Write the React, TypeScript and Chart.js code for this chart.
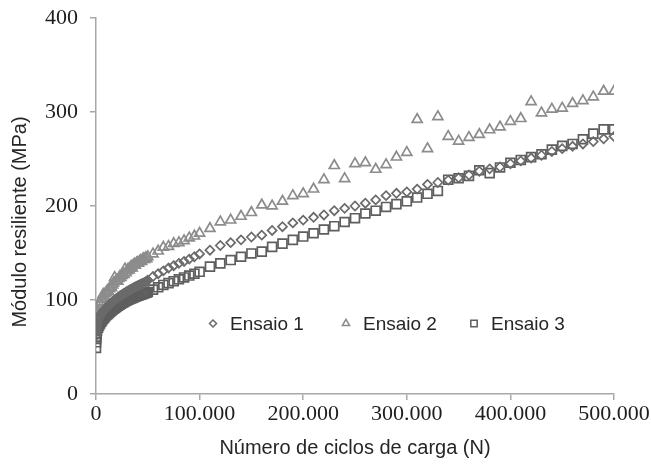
import React, { useEffect, useRef } from 'react';
import { Chart, registerables } from 'chart.js';

Chart.register(...registerables);

// Número de ciclos de carga (N)
const cycles = [
  0, 100, 200, 300, 500,
  1000, 2000, 3000, 4000, 5000, 6000, 7000, 8000, 9000, 10000,
  11000, 12000, 13000, 14000, 15000, 16000, 17000, 18000, 19000, 20000,
  21000, 22000, 23000, 24000, 25000, 26000, 27000, 28000, 29000, 30000,
  31000, 32000, 33000, 34000, 35000, 36000, 37000, 38000, 39000, 40000,
  41000, 42000, 43000, 44000, 45000, 46000, 47000, 48000, 49000, 50000,
  55000, 60000, 65000, 70000, 75000, 80000, 85000, 90000, 95000, 100000,
  110000, 120000, 130000, 140000, 150000, 160000, 170000, 180000, 190000, 200000,
  210000, 220000, 230000, 240000, 250000, 260000, 270000, 280000, 290000, 300000,
  310000, 320000, 330000, 340000, 350000, 360000, 370000, 380000, 390000, 400000,
  410000, 420000, 430000, 440000, 450000, 460000, 470000, 480000, 490000, 500000,
];

// Módulo resiliente (MPa)
const ensaio1 = [
  62, 66, 69, 71, 73,
  76, 79, 81.5, 83.5, 85, 86.5, 88, 89.3, 90.6, 91.8,
  93, 94, 95, 96, 97, 98, 99, 99.9, 100.8, 101.6,
  102.4, 103.2, 104, 104.8, 105.5, 106.2, 106.9, 107.6, 108.3, 109,
  109.7, 110.3, 110.9, 111.5, 112.1, 112.7, 113.3, 113.9, 114.5, 115,
  115.5, 116, 116.5, 117, 117.5, 118, 118.6, 119.3, 120, 121,
  125, 128, 131, 134, 136.5, 139, 141, 143.5, 146, 149,
  153, 158, 161, 164, 167, 169, 174, 178, 182, 185,
  188, 190.5, 195, 197.5, 200, 203, 206.5, 211, 213.5, 215,
  218, 223, 225, 227.5, 230, 233, 237, 239.5, 241.5, 245,
  248, 251, 254, 258, 261, 263.5, 266, 268.5, 271.5, 274,
];

const ensaio2 = [
  80, 83, 85, 86, 88,
  90, 93, 96, 98, 101, 102, 106, 104, 107, 108,
  110, 109, 112, 114, 113, 116, 118, 124, 120, 121,
  120, 123, 125, 124, 126, 128, 127, 133, 129, 131,
  133, 132, 134, 136, 134, 137, 138, 137, 139, 140,
  139, 141, 142, 141, 143, 144, 143, 145, 144, 146,
  149, 152, 156, 157, 160, 161, 163, 166, 168, 171,
  176, 183, 185, 189, 193, 201, 200, 205, 211, 213,
  218, 228, 243, 229, 245, 246, 239, 244, 252, 257,
  292, 261, 295, 274, 269, 273, 276, 281, 284, 290,
  293, 311, 299, 303, 304, 309, 312, 316, 322, 322,
];

const ensaio3 = [
  49, 55, 59, 61, 64,
  67, 70.5, 73, 75, 77, 78.5, 80, 81.5, 82.8, 84,
  85, 86, 87, 88, 89, 90, 90.8, 91.6, 92.4, 93.2,
  94, 94.7, 95.4, 96.1, 96.8, 97.4, 98, 98.6, 99.2, 99.8,
  100.3, 100.8, 101.3, 101.8, 102.3, 102.8, 103.3, 103.7, 104.1, 104.5,
  104.9, 105.3, 105.7, 106.1, 106.5, 106.9, 107.3, 107.7, 108.1, 108.5,
  111, 113.5, 116, 118, 120, 122, 124, 126, 128, 130,
  135.5, 139, 142.5, 146, 149.5, 151.5, 156.5, 160, 164, 167.5,
  171, 175, 178.5, 183, 187, 192, 195, 199, 202, 205,
  209, 213, 216, 228, 229.5, 232, 238, 235, 241, 246,
  249, 252, 255, 260, 264, 266, 271, 277, 281.5, 281.5,
];

const seriesLabels = ['Ensaio 1', 'Ensaio 2', 'Ensaio 3'];
const xTitle = 'Número de ciclos de carga (N)';
const yTitle = 'Módulo resiliente (MPa)';
const xMax = 500000;
const xStep = 100000;
const yMax = 400;
const yStep = 100;

const COLORS = ['#6a6a6a', '#8c8c8c', '#5e5e5e'];
const STYLES = ['rectRot', 'triangle', 'rect'];
const RADII = [4.5, 5.8, 6.3];

function fmtThousands(v: number) {
  return String(v).replace(/\B(?=(\d{3})+(?!\d))/g, '.');
}

function drawMarker(ctx: CanvasRenderingContext2D, style: string, x: number, y: number, r: number) {
  ctx.beginPath();
  if (style === 'rectRot') {
    ctx.moveTo(x, y - r);
    ctx.lineTo(x + r, y);
    ctx.lineTo(x, y + r);
    ctx.lineTo(x - r, y);
    ctx.closePath();
  } else if (style === 'triangle') {
    const a = (2 * Math.PI) / 3;
    ctx.moveTo(x, y - r);
    ctx.lineTo(x + Math.sin(a) * r, y - Math.cos(a) * r);
    ctx.lineTo(x - Math.sin(a) * r, y - Math.cos(a) * r);
    ctx.closePath();
  } else {
    const s = Math.SQRT1_2 * r;
    ctx.rect(x - s, y - s, 2 * s, 2 * s);
  }
  ctx.stroke();
}

const insideLegend = {
  id: 'insideLegend',
  afterDraw(chart: any) {
    const { ctx, chartArea } = chart;
    const y = chart.scales.y.getPixelForValue(75);
    const offsets = [117, 250, 378];
    ctx.save();
    ctx.font = '19px "Liberation Sans", Arial, sans-serif';
    ctx.textBaseline = 'middle';
    ctx.textAlign = 'left';
    seriesLabels.forEach((label, i) => {
      const mx = chartArea.left + offsets[i];
      ctx.strokeStyle = COLORS[i];
      ctx.lineWidth = 1.5;
      const r = i === 0 ? 3.5 : i === 1 ? 4.2 : 4.5;
      drawMarker(ctx, STYLES[i], mx, y, r);
      ctx.fillStyle = '#262626';
      ctx.fillText(label, mx + 17, y + 1);
    });
    ctx.restore();
  },
};

const yTitlePlugin = {
  id: 'yTitlePlugin',
  afterDraw(chart: any) {
    const { ctx, chartArea } = chart;
    ctx.save();
    ctx.font = '20px "Liberation Sans", Arial, sans-serif';
    ctx.fillStyle = '#262626';
    ctx.textAlign = 'center';
    ctx.textBaseline = 'middle';
    ctx.translate(20, (chartArea.top + chartArea.bottom) / 2 + 16);
    ctx.rotate(-Math.PI / 2);
    ctx.fillText(yTitle, 0, 0);
    ctx.restore();
  },
};

export default function App() {
  const canvasRef = useRef<HTMLCanvasElement | null>(null);

  useEffect(() => {
    if (!canvasRef.current) return;
    const series = [ensaio1, ensaio2, ensaio3];
    const datasets = series.map((vals, i) => ({
      label: seriesLabels[i],
      data: cycles.map((c, j) => ({ x: c, y: vals[j] })),
      pointStyle: STYLES[i] as any,
      pointRadius: RADII[i],
      pointBorderWidth: 1.7,
      pointBorderColor: COLORS[i],
      pointBackgroundColor: 'rgba(255,255,255,0)',
      showLine: false,
    }));
    const axisColor = '#a8a8a8';
    const chart = new Chart(canvasRef.current, {
      type: 'scatter',
      data: { datasets },
      options: {
        animation: false,
        responsive: false,
        devicePixelRatio: 1,
        layout: { padding: { left: 0, right: 37, top: 18, bottom: 0 } },
        plugins: {
          legend: { display: false },
          tooltip: { enabled: false },
        },
        scales: {
          x: {
            type: 'linear',
            min: 0,
            max: xMax,
            ticks: {
              stepSize: xStep,
              callback: (v: any) => fmtThousands(Number(v)),
              font: { family: '"Liberation Serif", "Times New Roman", serif', size: 22 },
              color: '#1e1e1e',
              padding: 1,
              maxRotation: 0,
            },
            grid: { drawOnChartArea: false, drawTicks: true, tickLength: 6, color: axisColor, lineWidth: 1.5 },
            border: { display: true, color: axisColor, width: 1.5 },
            title: {
              display: true,
              text: xTitle,
              font: { family: '"Liberation Sans", Arial, sans-serif', size: 20 },
              color: '#262626',
              padding: { top: 0, bottom: 4 },
            },
            afterFit: (s: any) => {
              s.height = 70;
              s.paddingLeft = 0;
              s.paddingRight = 0;
            },
          },
          y: {
            type: 'linear',
            min: 0,
            max: yMax,
            ticks: {
              stepSize: yStep,
              font: { family: '"Liberation Serif", "Times New Roman", serif', size: 22 },
              color: '#1e1e1e',
              padding: 12,
            },
            grid: { drawOnChartArea: false, drawTicks: true, tickLength: 6, color: axisColor, lineWidth: 1.5 },
            border: { display: true, color: axisColor, width: 1.5 },
            afterFit: (s: any) => {
              s.width = 96;
              s.paddingTop = 0;
              s.paddingBottom = 0;
            },
          },
        },
      },
      plugins: [insideLegend, yTitlePlugin],
    });
    return () => chart.destroy();
  }, []);

  return (
    <div style={{ position: 'absolute', left: 0, top: 0, width: 651, height: 464, background: '#fff' }}>
      <canvas ref={canvasRef} width={651} height={464} style={{ display: 'block' }} />
    </div>
  );
}
